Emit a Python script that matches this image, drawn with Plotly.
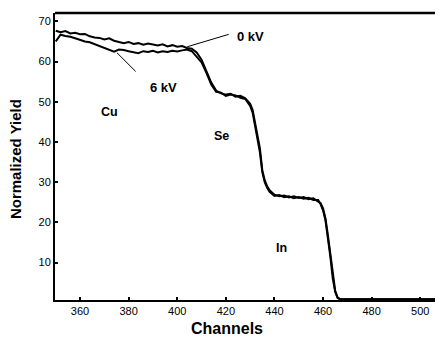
import plotly.graph_objects as go

# ---- data ----
channels = [350, 352, 354, 356, 358, 360, 362, 364, 366, 368, 370, 372, 374, 376, 378,
            380, 382, 384, 386, 388, 390, 392, 394, 396, 398, 400, 402, 404, 406, 408,
            410, 412, 414, 416, 418, 420, 422, 424, 426, 428, 430, 431, 432, 433, 434,
            435, 436, 437, 438, 440, 442, 444, 446, 448, 450, 452, 454, 456, 458, 459,
            460, 461, 462, 463, 464, 465, 466, 467, 480, 507]

yield_0kv = [67.7, 67.3, 67.6, 67.0, 67.2, 66.8, 66.9, 66.3, 66.0, 65.9, 65.5, 65.8, 65.2, 64.9, 64.6,
             64.9, 64.4, 64.6, 64.2, 64.5, 64.3, 64.0, 64.3, 63.8, 64.1, 63.7, 63.9, 63.4, 63.2, 62.3,
             60.5, 57.8, 54.8, 52.8, 52.1, 51.8, 52.0, 51.3, 51.5, 50.9, 49.5, 48.0, 45.0, 42.0, 38.5,
             33.0, 30.5, 29.0, 28.0, 26.9, 26.5, 26.7, 26.2, 26.5, 26.1, 26.3, 25.8, 26.0, 25.3, 24.8,
             23.5, 21.0, 16.8, 12.0, 6.5, 3.0, 1.3, 0.9, 0.9, 0.9]

yield_6kv = [65.0, 66.7, 66.4, 66.2, 65.8, 65.3, 65.0, 64.8, 64.3, 64.0, 63.5, 62.8, 62.5, 63.0, 62.9,
             62.6, 62.3, 62.1, 62.6, 62.4, 62.7, 62.3, 62.6, 62.4, 62.7, 62.5, 62.8, 63.0, 62.6, 61.2,
             59.8, 57.2, 54.3, 52.5, 52.3, 51.5, 51.8, 51.6, 51.0, 50.7, 49.0, 47.4, 44.2, 41.0, 37.5,
             32.5, 30.0, 28.6, 27.6, 26.6, 26.8, 26.3, 26.5, 26.0, 26.3, 25.9, 26.1, 25.6, 25.6, 24.5,
             23.0, 20.5, 16.2, 11.5, 6.0, 2.7, 1.2, 0.9, 0.9, 0.9]

x_ticks = [360, 380, 400, 420, 440, 460, 480, 500]
y_ticks = [10, 20, 30, 40, 50, 60, 70]

FONT = "Liberation Sans, Arial, sans-serif"
X_RANGE = [349.7, 507.3]
Y_RANGE = [0.7, 72.1]

fig = go.Figure()
fig.add_trace(go.Scatter(x=channels, y=yield_0kv, mode="lines", name="0 kV",
                         line=dict(color="black", width=2), showlegend=False))
fig.add_trace(go.Scatter(x=channels, y=yield_6kv, mode="lines", name="6 kV",
                         line=dict(color="black", width=2), showlegend=False))
# invisible trace so the right-hand (mirror) axis is drawn
fig.add_trace(go.Scatter(x=channels, y=yield_0kv, mode="lines", yaxis="y2",
                         line=dict(color="rgba(0,0,0,0)", width=0), showlegend=False,
                         hoverinfo="skip"))

ann_font = dict(family=FONT, size=13, color="black")
lbl_font = dict(family=FONT, size=12.5, color="black")
annotations = [
    dict(x=430, y=66.2, text="<b>0 kV</b>", showarrow=False, font=ann_font),
    dict(x=404.1, y=63.7, ax=421.8, ay=66.9, axref="x", ayref="y", xref="x", yref="y",
         text="", showarrow=True, arrowhead=0, arrowwidth=1, arrowcolor="black"),
    dict(x=394.2, y=53.6, text="<b>6 kV</b>", showarrow=False, font=ann_font),
    dict(x=375.2, y=62.2, ax=383.5, ay=57.2, axref="x", ayref="y", xref="x", yref="y",
         text="", showarrow=True, arrowhead=0, arrowwidth=1, arrowcolor="black"),
    dict(x=372.0, y=47.5, text="<b>Cu</b>", showarrow=False, font=lbl_font),
    dict(x=418.1, y=41.5, text="<b>Se</b>", showarrow=False, font=lbl_font),
    dict(x=442.8, y=13.7, text="<b>In</b>", showarrow=False, font=lbl_font),
    # axis titles
    dict(xref="paper", yref="paper", x=-0.1044, y=0.491, xanchor="center", yanchor="middle",
         text="<b>Normalized Yield</b>", textangle=-90, showarrow=False,
         font=dict(family=FONT, size=15, color="black")),
    dict(xref="paper", yref="paper", x=0.449, y=-0.0976, xanchor="center", yanchor="middle",
         text="<b>Channels</b>", showarrow=False,
         font=dict(family=FONT, size=16, color="black")),
]

# the page body has an 8px margin, so the figure is slightly smaller than the window
fig.update_layout(
    width=435, height=334,
    margin=dict(l=47, r=5, t=5, b=42),
    paper_bgcolor="white", plot_bgcolor="white",
    annotations=annotations,
    xaxis=dict(range=X_RANGE, tickvals=x_ticks, ticktext=[str(v) for v in x_ticks],
               ticks="inside", ticklen=3, tickcolor="black", tickwidth=1.5, automargin=False,
               showline=True, linecolor="black", linewidth=2, showgrid=False, zeroline=False,
               tickfont=dict(family=FONT, size=11, color="black")),
    yaxis=dict(range=Y_RANGE, tickvals=y_ticks, ticktext=[str(v) for v in y_ticks],
               ticks="inside", ticklen=3, tickcolor="black", tickwidth=1.5, automargin=False,
               showline=True, linecolor="black", linewidth=2, showgrid=False, zeroline=False,
               tickfont=dict(family=FONT, size=11, color="black")),
    yaxis2=dict(range=Y_RANGE, overlaying="y", side="right", tickvals=y_ticks,
                ticks="inside", ticklen=3, tickcolor="black", tickwidth=1.5, automargin=False,
                showticklabels=False, showline=True, linecolor="black", linewidth=1,
                showgrid=False, zeroline=False),
    shapes=[dict(type="line", xref="paper", yref="paper", x0=0, x1=1, y0=1, y1=1,
                 line=dict(color="black", width=2.5))],
)

fig.write_html("out.html")
